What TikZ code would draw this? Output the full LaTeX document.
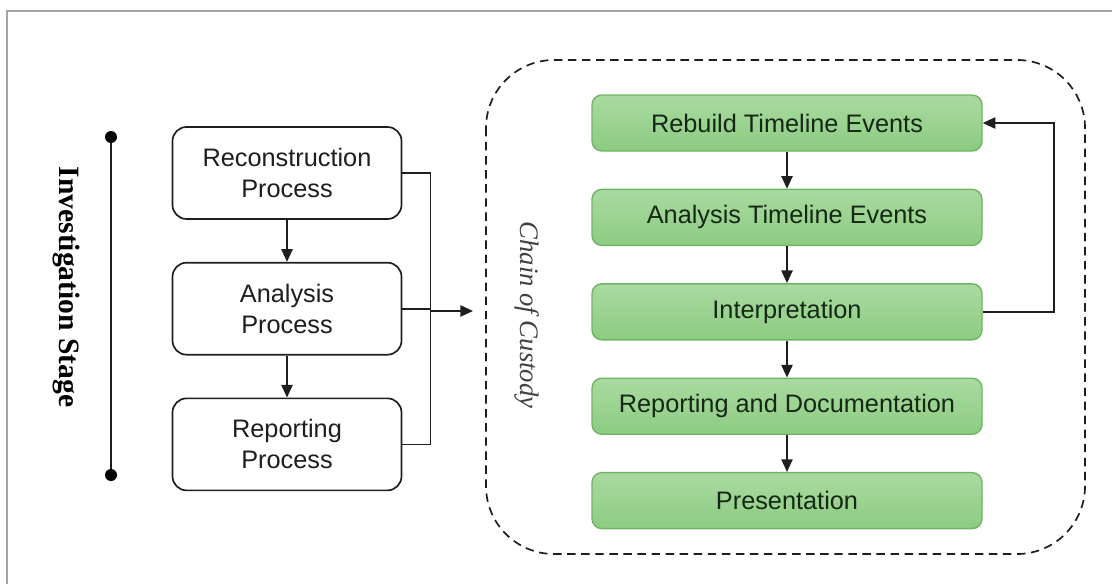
\documentclass[tikz,border=0pt]{standalone}
\usepackage{fontspec}
\setmainfont{Liberation Sans}
\newfontfamily\serifface{Liberation Serif}
\usetikzlibrary{positioning,arrows.meta}
\definecolor{framegray}{RGB}{165,165,165}
\definecolor{inkdark}{RGB}{30,30,30}
\definecolor{greentop}{RGB}{170,218,160}
\definecolor{greenbot}{RGB}{140,204,130}
\definecolor{greenedge}{RGB}{112,180,100}
\definecolor{greentext}{RGB}{20,40,20}

\begin{document}
\begin{tikzpicture}[
    procbox/.style={draw=inkdark,line width=1.2pt,rounded corners=10pt,fill=white,
      minimum width=5.725cm,minimum height=2.3cm,align=center,text=inkdark,
      font=\fontsize{18}{22}\selectfont},
    stagebox/.style={draw=greenedge,line width=1pt,rounded corners=7pt,
      top color=greentop,bottom color=greenbot,minimum width=9.75cm,
      minimum height=1.4cm,text=greentext,font=\fontsize{18}{22}\selectfont},
    arr/.style={line width=1.2pt,draw=inkdark,-{Triangle[length=9pt,width=8pt]}},
    link/.style={line width=1.2pt,draw=inkdark},
    dot/.style={circle,fill=black,inner sep=0pt,minimum size=0.3cm}
  ]
  \useasboundingbox (0,0) rectangle (27.8,-14.6);
  % screenshot border
  \draw[framegray,line width=1.6pt] (0.175,-14.6) -- (0.175,-0.275) -- (27.8,-0.275);

  % stage timeline
  \node[dot] (tltop) at (2.775,-3.425) {};
  \node[dot] (tlbot) at (2.775,-11.875) {};
  \draw[link] (tltop) -- (tlbot);
  \node[rotate=-90,font=\serifface\bfseries\fontsize{21}{24}\selectfont] (stage)
    at (1.65,-7.175) {Investigation Stage};

  % investigation processes
  \node[procbox] (recon) at (7.175,-4.325) {Reconstruction\\Process};
  \node[procbox,below=1.05cm of recon] (analysis) {Analysis\\Process};
  \node[procbox,below=1.05cm of analysis] (report) {Reporting\\Process};
  \draw[arr] (recon) -- (analysis);
  \draw[arr] (analysis) -- (report);

  \draw[link] (recon.east) -- ++(0.7,0) |- (report.east);
  \draw[link] (analysis.east) -- ++(0.7,0);
  \coordinate (busmid) at (10.775,-7.775);
  \coordinate (custin) at (11.825,-7.775);
  \draw[arr] (busmid) -- (custin);

  % chain of custody
  \draw[inkdark,line width=1.2pt,dash pattern=on 6pt off 4pt,rounded corners=1.7cm]
    (12.15,-1.5) rectangle (27.125,-13.85);
  \node[rotate=-90,text=inkdark!85,font=\serifface\itshape\fontsize{19}{22}\selectfont]
    (custody) at (13.175,-7.875) {Chain of Custody};

  \node[stagebox] (rebuild) at (19.675,-3.075) {Rebuild Timeline Events};
  \node[stagebox,below=0.925cm of rebuild] (timeline) {Analysis Timeline Events};
  \node[stagebox,below=0.925cm of timeline] (interp) {Interpretation};
  \node[stagebox,below=0.925cm of interp] (docs) {Reporting and Documentation};
  \node[stagebox,below=0.925cm of docs] (present) {Presentation};
  \draw[arr] (rebuild) -- (timeline);
  \draw[arr] (timeline) -- (interp);
  \draw[arr] (interp) -- (docs);
  \draw[arr] (docs) -- (present);
  \draw[arr] (interp.east) -- ++(1.775,0) |- (rebuild.east);
\end{tikzpicture}
\end{document}
